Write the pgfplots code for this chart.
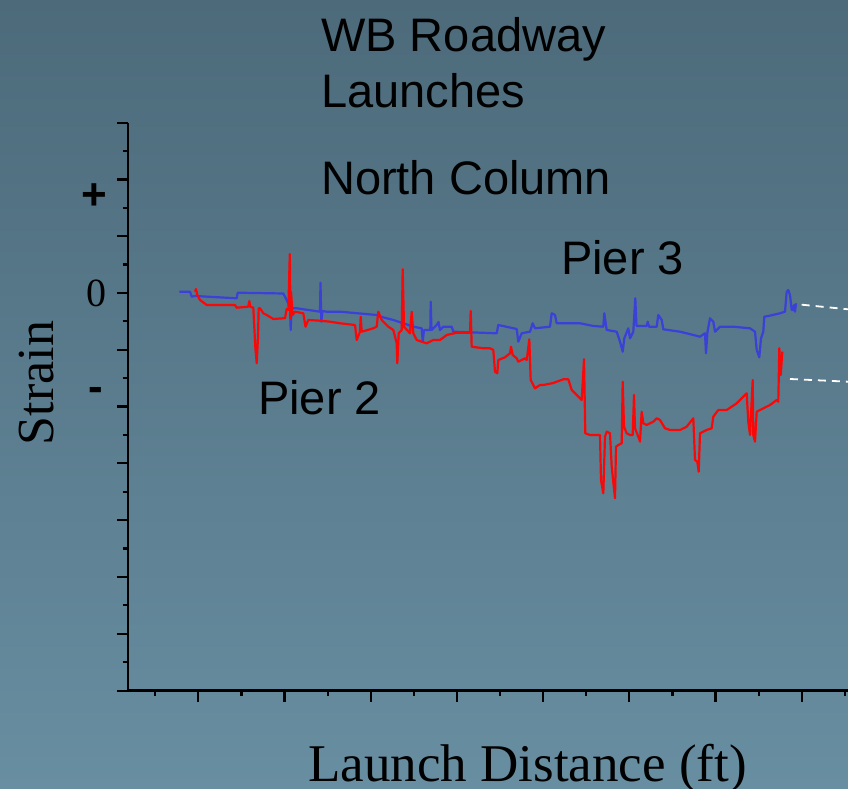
\documentclass[border=0pt]{standalone}
\usepackage{fontspec}
\setmainfont{Liberation Serif}
\newfontfamily\arial{Liberation Sans}
\usepackage{pgfplots}
\pgfplotsset{compat=1.18}
\definecolor{bgtop}{RGB}{76,106,122}
\definecolor{bgbot}{RGB}{104,142,161}
\definecolor{pierblue}{RGB}{58,64,216}
\definecolor{pierred}{RGB}{250,8,8}
\begin{document}
\begin{tikzpicture}
\shade[top color=bgtop, bottom color=bgbot] (0,0) rectangle (848bp,789bp);
\path[use as bounding box] (0,0) rectangle (848bp,789bp);
\begin{axis}[
  at={(128bp,98.3bp)}, anchor=south west,
  scale only axis, width=720bp, height=568bp,
  xmin=128, xmax=848, ymin=-397.7, ymax=170.3,
  axis x line*=bottom, axis y line*=left,
  axis line style={black, line width=2.8bp},
  tick align=outside,
  major tick length=11bp, minor tick length=5.5bp,
  every tick/.style={black, line width=2.2bp},
  xtick={198.3,284.5,370.7,456.9,543.1,629.3,715.5,801.7},
  minor xtick={155.2,241.4,327.6,413.8,500,586.2,672.4,758.6,844.8},
  ytick={170.3,113.5,56.7,0,-56.8,-113.6,-170.4,-227.2,-284,-340.9,-397.7},
  minor ytick={141.9,85.1,28.4,-28.4,-85.2,-142,-198.8,-255.6,-312.4,-369.3},
  xticklabels={}, yticklabels={},
  clip=false,
]
% Pier 3 (blue)
\addplot[pierblue, line width=2.2bp, line join=round] coordinates {
(179.3,1.3) (190,1.3) (191.7,-3.7) (195,-3) (236.7,-5.3) (237.7,0.3) (283.3,-0.5)
(286.7,-7) (290,-13.7) (290.7,-37) (291.5,-15) (296.7,-15.3) (320,-18.7) (320.5,10.3)
(321.3,-28.7) (322.5,-18) (326.7,-18.7) (340,-18.7) (376.7,-22) (380,-23.5) (393.3,-27)
(403.3,-30.3) (413.3,-33.7) (421.7,-35.3) (422.7,-48.7) (424,-37) (430.3,-37) (430.7,-8.7)
(431.5,-37) (436.7,-32) (438.5,-29) (440,-37) (443.3,-33.7) (451.7,-33.7) (453.3,-38.7)
(496.7,-40.3) (498.3,-32) (516.7,-36) (518.3,-48.7) (521.7,-40.3) (530,-38.7) (532.7,-30.3)
(535,-35.3) (550,-33.7) (551.7,-20.3) (555,-22) (556.7,-30.3) (580,-30.3) (593.3,-33)
(603.3,-33.7) (604.3,-20.3) (606.7,-37) (616.7,-38.7) (620,-48.7) (622.7,-58.7) (624.3,-45.3)
(628.3,-35.3) (630,-45.3) (633.3,-38.7) (635.3,-5.3) (636.5,-33) (646.7,-33) (647.7,-28.7)
(649,-33.7) (656.7,-33.7) (658.3,-22) (661.7,-27) (663.3,-36.3) (680,-38.7) (693.3,-42)
(700,-43.7) (705,-40.3) (706,-60.3) (707.5,-38.7) (710,-25.3) (713.3,-28.7) (715,-38.7)
(720,-33.7) (733.3,-33.7) (750,-35.3) (755,-38.7) (756.7,-57) (759.3,-64.3) (761,-45.3)
(763.3,-38.7) (764.3,-23.7) (768.3,-23) (780,-20.3) (785,-18.7) (786.7,1.3) (788.3,3)
(790,-2) (791.7,-17) (793.3,-17) (794,-12) (795,-18.7) (796,-10.3)
};
% Pier 2 (red)
\addplot[pierred, line width=2.2bp, line join=round] coordinates {
(195,1.3) (196,4) (197.3,-2) (200,-7) (206.7,-12) (223.3,-12) (235,-12) (236.7,-14.7)
(248.3,-13.7) (249.3,-8) (250.3,-13.7) (253.3,-14.7) (255.3,-53.7) (256.7,-70.3) (258,-43.7)
(258.7,-15.3) (260,-15.3) (263.3,-20.3) (266.7,-22) (273.3,-26) (283.3,-25.3) (285,-25.3)
(286.7,-16) (288.3,-17) (289.8,39) (290.5,-25) (291,1.3) (292.7,-22) (295,-18.7)
(303.3,-20.3) (305.5,-33.7) (308.3,-27) (320,-27.7) (330,-28.7) (340,-30.3) (355,-32)
(356.7,-47) (360,-38.7) (360.7,-23.7) (361.7,-38.7) (373.3,-35.3) (376.7,-33.7) (378.3,-18.7)
(381.7,-27) (388.3,-33.7) (393.3,-37) (396.7,-50.3) (397.3,-70.3) (398.7,-40.3) (401.7,-37)
(402.7,23.7) (404,-33.7) (410,-40.3) (411.7,-18.7) (413.3,-40.3) (416.7,-47) (421.7,-48.7)
(426.7,-50.3) (433.3,-47) (440,-47) (446.7,-42) (456.7,-39.7) (470,-39.7) (470.7,-18)
(471.7,-53.7) (483.3,-55.3) (490,-55.3) (493.3,-57) (495,-78.7) (497.3,-80.3) (498.3,-67)
(505,-64.3) (510,-60.3) (511,-53.7) (512.7,-62) (516.7,-65.3) (518.3,-68.7) (525,-65.3)
(526.7,-67) (529.3,-46.3) (530.7,-87) (533.3,-92) (535,-95.3) (540,-92) (543.3,-92)
(553.3,-90) (563.3,-86.3) (568.3,-86.3) (571.7,-97) (576.7,-102) (581.7,-107) (584,-66.3)
(585.3,-140.3) (590,-142) (600,-142) (601,-187) (603.3,-200.3) (605,-143.7) (606.7,-138.7)
(610,-140.3) (611.7,-173.7) (615,-205.3) (616,-153.7) (618.3,-152) (621.7,-150.3) (622.7,-88.7)
(624,-133.7) (626.7,-140.3) (630,-142) (632.7,-142) (634,-102) (635,-135.3) (638.3,-143.7)
(640,-148.7) (641.7,-118.7) (643.3,-130.3) (646.7,-132) (653.3,-128.7) (656.7,-125.3) (660,-127)
(665,-135.3) (670,-137) (680,-137) (686.7,-133.7) (693.3,-125.3) (695,-167) (697.3,-168.7)
(698.7,-178.7) (700,-140.3) (706.7,-137) (711.7,-135.3) (713.3,-123.7) (718.3,-117) (726.7,-117)
(736.7,-110.3) (746.7,-100.3) (748.3,-128.7) (750,-142) (752.7,-87) (753.3,-142) (755,-148.7)
(756.7,-118.7) (760,-117) (770,-112) (776.7,-107) (778.3,-108.7) (779.3,-55.3) (780.7,-82)
(782.3,-58.7)
};
% white dashed leaders
\addplot[white, line width=1.8bp, dash pattern=on 8bp off 6bp] coordinates {(801.7,-11.7) (848,-16.3)};
\addplot[white, line width=1.8bp, dash pattern=on 8bp off 6bp] coordinates {(790,-86) (848,-88.7)};
\end{axis}
% tick labels
\node[font=\arial\bfseries\fontsize{44bp}{44bp}\selectfont, inner sep=0] at (94bp,592bp) {+};
\node[font=\fontsize{40bp}{40bp}\selectfont, inner sep=0] at (96bp,495.5bp) {0};
\node[font=\arial\bfseries\fontsize{44bp}{44bp}\selectfont, inner sep=0] at (96bp,395bp) {-};
% titles
\begin{scope}[every node/.style={font=\arial\fontsize{47bp}{56bp}\selectfont, anchor=base west, inner sep=0}]
\node at (321bp,737bp) {WB Roadway};
\node at (321bp,681bp) {Launches};
\node at (321bp,594bp) {North Column};
\node at (561bp,514bp) {Pier 3};
\node at (258bp,374bp) {Pier 2};
\end{scope}
% axis labels
\node[font=\fontsize{52bp}{52bp}\selectfont, rotate=90, anchor=base, inner sep=0] at (53bp,406bp) {Strain};
\node[font=\fontsize{53bp}{53bp}\selectfont, anchor=base, inner sep=0] at (527.5bp,7.3bp) {Launch Distance (ft)};
\end{tikzpicture}
\end{document}
